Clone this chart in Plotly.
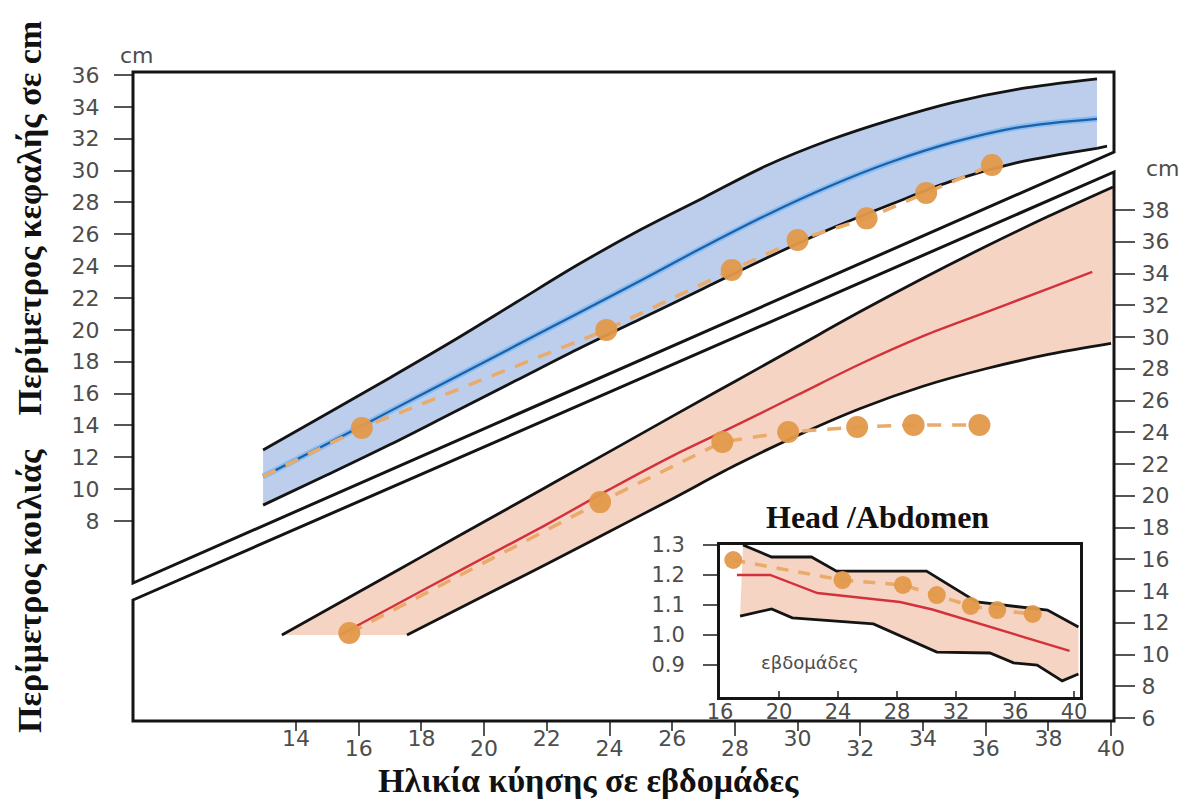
import plotly.graph_objects as go

# ---------------- data ----------------
# Head circumference (left axis, cm) vs gestational week
head_weeks = [12.95, 15, 17, 19, 21, 23, 25, 27, 29, 31, 33, 35, 37, 39.55]
head_upper = [12.46, 14.75, 17.0, 19.3, 21.7, 24.1, 26.3, 28.3, 30.3, 31.9, 33.2, 34.3, 35.1, 35.75]
head_median = [10.8, 12.85, 14.9, 16.95, 19.0, 21.05, 23.1, 25.2, 27.2, 29.0, 30.55, 31.8, 32.7, 33.25]
head_lower = [9.0, 10.9, 12.8, 14.8, 16.8, 18.8, 20.7, 22.6, 24.5, 26.3, 27.9, 29.4, 30.5, 31.4]
head_lower_end_weeks = [39.55, 39.87]
head_lower_end = [31.4, 31.54]
head_obs_weeks = [12.95, 16.1, 23.9, 27.9, 30.0, 32.2, 34.1, 36.2]
head_obs = [10.8, 13.84, 20.0, 23.76, 25.64, 27.0, 28.6, 30.35]

# Abdominal circumference (right axis, cm)
abd_upper_weeks = [13.55, 16, 18, 20, 22, 24, 26, 28, 30, 32, 34, 36, 38, 40.06]
abd_upper = [11.23, 13.94, 16.15, 18.36, 20.57, 22.78, 25.0, 27.2, 29.4, 31.6, 33.7, 35.7, 37.6, 39.45]
abd_median_weeks = [15.4, 18, 20, 22, 24, 26, 28, 30, 32, 34, 36, 38, 39.4]
abd_median = [11.23, 14.0, 16.1, 18.2, 20.4, 22.5, 24.4, 26.35, 28.3, 30.05, 31.55, 33.05, 34.1]
abd_lower_weeks = [17.54, 20, 22, 24, 26, 28, 30, 32, 34, 36, 38, 40]
abd_lower = [11.23, 13.7, 15.7, 17.75, 19.8, 21.9, 23.8, 25.5, 26.9, 28.0, 28.9, 29.6]
abd_obs_weeks = [15.7, 23.7, 27.6, 29.7, 31.9, 33.7, 35.8]
abd_obs = [11.35, 19.6, 23.39, 24.02, 24.33, 24.46, 24.46]

# Head / Abdomen ratio (inset)
ratio_upper_weeks = [17.56, 19.5, 22.2, 23.9, 30.0, 33.4, 38.2, 40.3]
ratio_upper = [1.30, 1.26, 1.26, 1.213, 1.213, 1.11, 1.083, 1.027]
ratio_lower_weeks = [17.36, 19.5, 20.9, 26.4, 30.7, 34.3, 35.9, 37.5, 39.2, 40.3]
ratio_lower = [1.063, 1.087, 1.057, 1.037, 0.943, 0.94, 0.907, 0.9, 0.847, 0.87]
ratio_median_weeks = [17.15, 19.4, 22.6, 28.2, 30.4, 39.7]
ratio_median = [1.2, 1.2, 1.14, 1.11, 1.085, 0.947]
ratio_obs_weeks = [16.9, 24.3, 28.4, 30.7, 33.0, 34.8, 37.2]
ratio_obs = [1.25, 1.183, 1.167, 1.133, 1.097, 1.083, 1.07]

# tick labels
x_ticks_a = [14, 18, 22, 26, 30, 34, 38]
x_ticks_b = [16, 20, 24, 28, 32, 36, 40]
head_ticks = list(range(8, 37, 2))
abd_ticks = list(range(6, 39, 2))
inset_x_ticks = [16, 20, 24, 28, 32, 36, 40]
inset_y_ticks = [0.9, 1.0, 1.1, 1.2, 1.3]
inset_y_text = ["0.9", "1.0", "1.1", "1.2", "1.3"]

# ---------------- geometry ----------------
W, H = 1195, 801
L, R, T, B = 133, 1114, 72, 721   # plot area in pixels
pw, ph = R - L, B - T


def px(xp):
    return (xp - L) / pw


def py(yp):
    return (B - yp) / ph


BLACK = "#141414"
GRAY = "#4d4d4d"
BLUE_FILL = "rgb(188,206,236)"
PEACH = "rgb(246,212,196)"
ORANGE = "#E2994A"
ORANGE_L = "#EAAA6A"
TICKFONT = dict(family="DejaVu Sans", size=22, color=GRAY)

fig = go.Figure()

# ---- head band ----
fig.add_trace(go.Scatter(x=head_weeks, y=head_lower, mode="lines",
                         line=dict(color=BLACK, width=2.8, shape="spline"),
                         xaxis="x", yaxis="y", hoverinfo="skip"))
fig.add_trace(go.Scatter(x=head_weeks, y=head_upper, mode="lines", fill="tonexty",
                         fillcolor=BLUE_FILL,
                         line=dict(color=BLACK, width=2.8, shape="spline"),
                         xaxis="x", yaxis="y", hoverinfo="skip"))
fig.add_trace(go.Scatter(x=head_lower_end_weeks, y=head_lower_end, mode="lines",
                         line=dict(color=BLACK, width=2.8),
                         xaxis="x", yaxis="y", hoverinfo="skip"))
fig.add_trace(go.Scatter(x=head_weeks, y=head_median, mode="lines",
                         line=dict(color="rgba(120,185,245,0.8)", width=6, shape="spline"),
                         xaxis="x", yaxis="y", hoverinfo="skip"))
fig.add_trace(go.Scatter(x=head_weeks, y=head_median, mode="lines",
                         line=dict(color="#1E5FA6", width=2.2, shape="spline"),
                         xaxis="x", yaxis="y", hoverinfo="skip"))
fig.add_trace(go.Scatter(x=head_obs_weeks, y=head_obs, mode="lines+markers",
                         line=dict(color=ORANGE_L, width=3.5, dash="14px,11px"),
                         marker=dict(color=ORANGE, size=[0] + [22] * (len(head_obs) - 1),
                                     opacity=0.95, line=dict(width=0)),
                         xaxis="x", yaxis="y", hoverinfo="skip"))

# ---- abdomen band ----
fig.add_trace(go.Scatter(x=abd_upper_weeks + abd_lower_weeks[::-1],
                         y=abd_upper + abd_lower[::-1], mode="lines", fill="toself",
                         fillcolor=PEACH, line=dict(width=0),
                         xaxis="x", yaxis="y2", hoverinfo="skip"))
fig.add_trace(go.Scatter(x=abd_upper_weeks, y=abd_upper, mode="lines",
                         line=dict(color=BLACK, width=2.8, shape="spline"),
                         xaxis="x", yaxis="y2", hoverinfo="skip"))
fig.add_trace(go.Scatter(x=abd_lower_weeks, y=abd_lower, mode="lines",
                         line=dict(color=BLACK, width=2.8, shape="spline"),
                         xaxis="x", yaxis="y2", hoverinfo="skip"))
fig.add_trace(go.Scatter(x=abd_median_weeks, y=abd_median, mode="lines",
                         line=dict(color="#D3323A", width=2.4, shape="spline"),
                         xaxis="x", yaxis="y2", hoverinfo="skip"))
fig.add_trace(go.Scatter(x=abd_obs_weeks, y=abd_obs, mode="lines+markers",
                         line=dict(color=ORANGE_L, width=3.5, dash="14px,11px"),
                         marker=dict(color=ORANGE, size=22, opacity=0.95, line=dict(width=0)),
                         xaxis="x", yaxis="y2", hoverinfo="skip"))

# invisible anchor trace for the second (staggered) bottom tick axis
fig.add_trace(go.Scatter(x=[x_ticks_b[0]], y=[head_ticks[0]], mode="markers",
                         marker=dict(opacity=0), xaxis="x4", yaxis="y", hoverinfo="skip"))

# ---- inset: head/abdomen ratio ----
fig.add_trace(go.Scatter(x=ratio_upper_weeks + ratio_lower_weeks[::-1],
                         y=ratio_upper + ratio_lower[::-1], mode="lines", fill="toself",
                         fillcolor=PEACH, line=dict(width=0),
                         xaxis="x3", yaxis="y3", hoverinfo="skip"))
fig.add_trace(go.Scatter(x=ratio_upper_weeks, y=ratio_upper, mode="lines",
                         line=dict(color=BLACK, width=2.8),
                         xaxis="x3", yaxis="y3", hoverinfo="skip"))
fig.add_trace(go.Scatter(x=ratio_lower_weeks, y=ratio_lower, mode="lines",
                         line=dict(color=BLACK, width=2.8),
                         xaxis="x3", yaxis="y3", hoverinfo="skip"))
fig.add_trace(go.Scatter(x=ratio_median_weeks, y=ratio_median, mode="lines",
                         line=dict(color="#D3323A", width=2.4),
                         xaxis="x3", yaxis="y3", hoverinfo="skip"))
fig.add_trace(go.Scatter(x=ratio_obs_weeks, y=ratio_obs, mode="lines+markers",
                         line=dict(color=ORANGE_L, width=3.5, dash="12px,10px"),
                         marker=dict(color=ORANGE, size=18, opacity=0.95, line=dict(width=0)),
                         xaxis="x3", yaxis="y3", hoverinfo="skip"))

# ---------------- axes ----------------
def wk(xp):
    return 14 + (xp - 296) / 31.35


xrange_main = [wk(L), wk(R)]
head_range = [36 - (B - 75) / 15.93, 36 + (75 - T) / 15.93]
abd_range = [38 - (B - 210) / 15.875, 38 + (210 - T) / 15.875]

common = dict(showgrid=False, zeroline=False, showline=False)

fig.update_layout(
    width=W, height=H,
    margin=dict(l=L, r=W - R, t=T, b=H - B, pad=0),
    paper_bgcolor="white", plot_bgcolor="white",
    showlegend=False,
    xaxis=dict(domain=[0, 1], range=xrange_main, anchor="y", tickvals=x_ticks_a,
               ticks="outside", ticklen=9, tickwidth=2, tickcolor="#555",
               tickfont=TICKFONT, ticklabelstandoff=-11, **common),
    xaxis4=dict(overlaying="x", range=xrange_main, anchor="y", side="bottom",
                tickvals=x_ticks_b, ticks="outside", ticklen=14, tickwidth=2,
                tickcolor="#555", tickfont=TICKFONT, ticklabelstandoff=-6, **common),
    yaxis=dict(domain=[0, 1], range=head_range, anchor="x", tickvals=head_ticks,
               ticks="outside", ticklen=18, tickwidth=2, tickcolor="#555",
               tickfont=TICKFONT, ticklabelstandoff=10, **common),
    yaxis2=dict(overlaying="y", side="right", range=abd_range, anchor="x",
                tickvals=abd_ticks, ticks="outside", ticklen=20, tickwidth=2,
                tickcolor="#555", tickfont=TICKFONT, ticklabelstandoff=2, **common),
    xaxis3=dict(domain=[px(720), px(1080)], range=[16, 16 + 360 / 14.75], anchor="y3",
                tickvals=inset_x_ticks, ticks="inside", ticklen=6, tickwidth=2,
                tickcolor="#555", tickfont=dict(family="DejaVu Sans", size=21, color=GRAY),
                ticklabelstandoff=-6,
                showgrid=False, zeroline=False, showline=True, mirror=True,
                linecolor=BLACK, linewidth=2.8),
    yaxis3=dict(domain=[py(697), py(545)], range=[1.3 - 152 / 300, 1.3], anchor="x3",
                tickvals=inset_y_ticks, ticktext=inset_y_text, ticks="outside", ticklen=14,
                tickwidth=2, tickcolor="#555",
                tickfont=dict(family="DejaVu Sans", size=21, color=GRAY),
                ticklabelstandoff=14,
                showgrid=False, zeroline=False, showline=True, mirror=True,
                linecolor=BLACK, linewidth=2.8),
)

# ---------------- broken frame ----------------
frame = dict(color=BLACK, width=3)
fig.add_shape(type="path", xref="paper", yref="paper", layer="above",
              path=f"M 0,{py(583)} L 0,1 L 1,1 L 1,{py(152)} Z", line=frame)
fig.add_shape(type="path", xref="paper", yref="paper", layer="above",
              path=f"M 0,{py(600)} L 1,{py(172)} L 1,0 L 0,0 Z", line=frame)

# ---------------- texts ----------------
serif_b = "Liberation Serif"
C = dict(xref="paper", yref="paper", showarrow=False, xanchor="center", yanchor="middle")
fig.add_annotation(x=px(137), y=py(55), text="cm",
                   font=dict(family="DejaVu Sans", size=22, color=GRAY), **C)
fig.add_annotation(x=px(1163), y=py(168), text="cm",
                   font=dict(family="DejaVu Sans", size=22, color=GRAY), **C)
fig.add_annotation(x=px(29), y=py(735), xref="paper", yref="paper",
                   text="<b>Περίμετρος κοιλιάς</b>", textangle=-90, showarrow=False,
                   xanchor="center", yanchor="bottom",
                   font=dict(family=serif_b, size=34, color="#111"))
fig.add_annotation(x=px(29), y=py(418), xref="paper", yref="paper",
                   text="<b>Περίμετρος κεφαλής σε cm</b>", textangle=-90, showarrow=False,
                   xanchor="center", yanchor="bottom",
                   font=dict(family=serif_b, size=34, color="#111"))
fig.add_annotation(x=px(588), y=py(780), text="<b>Ηλικία κύησης σε εβδομάδες</b>",
                   font=dict(family=serif_b, size=34, color="#111"), **C)
fig.add_annotation(x=px(877), y=py(517), text="<b>Head /Abdomen</b>",
                   font=dict(family=serif_b, size=32, color="#111"), **C)
fig.add_annotation(x=px(810), y=py(662), text="εβδομάδες",
                   font=dict(family="DejaVu Sans", size=18, color=GRAY), **C)

fig.write_html("out.html")
